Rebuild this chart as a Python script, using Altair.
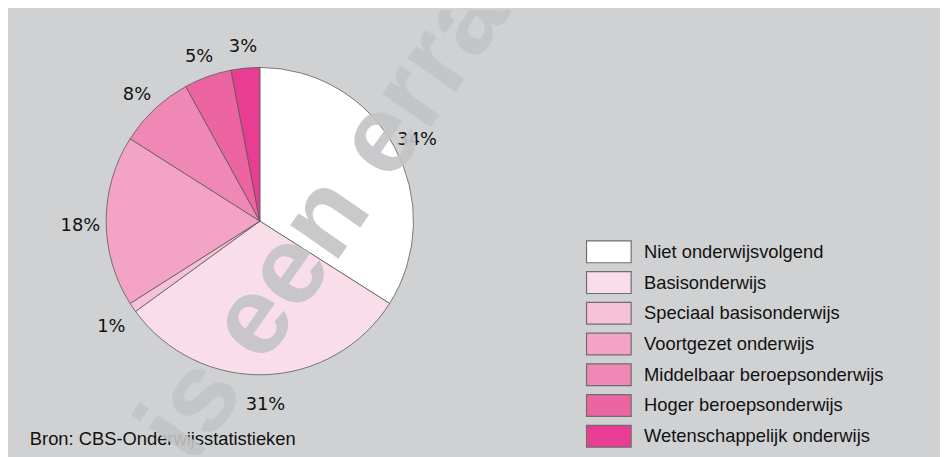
import altair as alt
import pandas as pd

categories = [
    "Niet onderwijsvolgend",
    "Basisonderwijs",
    "Speciaal basisonderwijs",
    "Voortgezet onderwijs",
    "Middelbaar beroepsonderwijs",
    "Hoger beroepsonderwijs",
    "Wetenschappelijk onderwijs",
]
values = [34, 31, 1, 18, 8, 5, 3]
colors = ["#ffffff", "#f9dde8", "#f6c2d8", "#f3a3c6", "#f088b5", "#ec64a0", "#e93c93"]
source_text = "Bron: CBS-Onderwijsstatistieken"
watermark_text = "Dit is een erratum"

df = pd.DataFrame({
    "cat": categories,
    "val": values,
    "order": list(range(len(categories))),
    "label": [f"{v}%" for v in values],
})

CX, CY = 254, 213

base = alt.Chart(df).encode(
    theta=alt.Theta("val:Q", stack=True),
    order=alt.Order("order:Q", sort="ascending"),
)

pie = base.mark_arc(outerRadius=155, stroke="#5a5a5a", strokeWidth=0.8).encode(
    x=alt.value(CX),
    y=alt.value(CY),
    color=alt.Color(
        "cat:N",
        scale=alt.Scale(domain=categories, range=colors),
        legend=alt.Legend(
            orient="none",
            legendX=594,
            legendY=232,
            title=None,
            padding=0,
            symbolType="M-2.045,-1H2.045V1H-2.045Z",
            symbolSize=484,
            symbolStrokeColor="#6e6e6e",
            symbolStrokeWidth=1.2,
            symbolOpacity=1,
            labelFont="Liberation Sans",
            labelFontSize=18.5,
            labelColor="#111111",
            labelOffset=23.5,
            rowPadding=3,
            labelLimit=400,
        ),
    ),
)

labels = base.mark_text(
    radius=181, font="DejaVu Sans", fontSize=18, color="#111111",
    align="center", baseline="middle", dy=5,
).encode(
    x=alt.value(CX),
    y=alt.value(CY),
    text="label:N",
)

src = alt.Chart(pd.DataFrame({"t": [source_text]})).mark_text(
    align="left", baseline="alphabetic", font="Liberation Sans", fontSize=18.5, color="#111111",
).encode(x=alt.value(22), y=alt.value(439), text="t:N")

wm = alt.Chart(pd.DataFrame({"t": [watermark_text]})).mark_text(
    align="center", baseline="middle", font="Liberation Sans", fontSize=112,
    fontWeight="bold", angle=305, color="#c3c4c6", opacity=0.9, clip=True,
).encode(x=alt.value(326), y=alt.value(202), text="t:N")

chart = alt.layer(pie, labels, src, wm).properties(
    width=940,
    height=449,
    background="#d0d1d3",
    padding=0,
    autosize=alt.AutoSizeParams(type="none"),
).configure_view(stroke=None)

chart.save("out.html", embed_options={"renderer": "svg", "actions": False})
